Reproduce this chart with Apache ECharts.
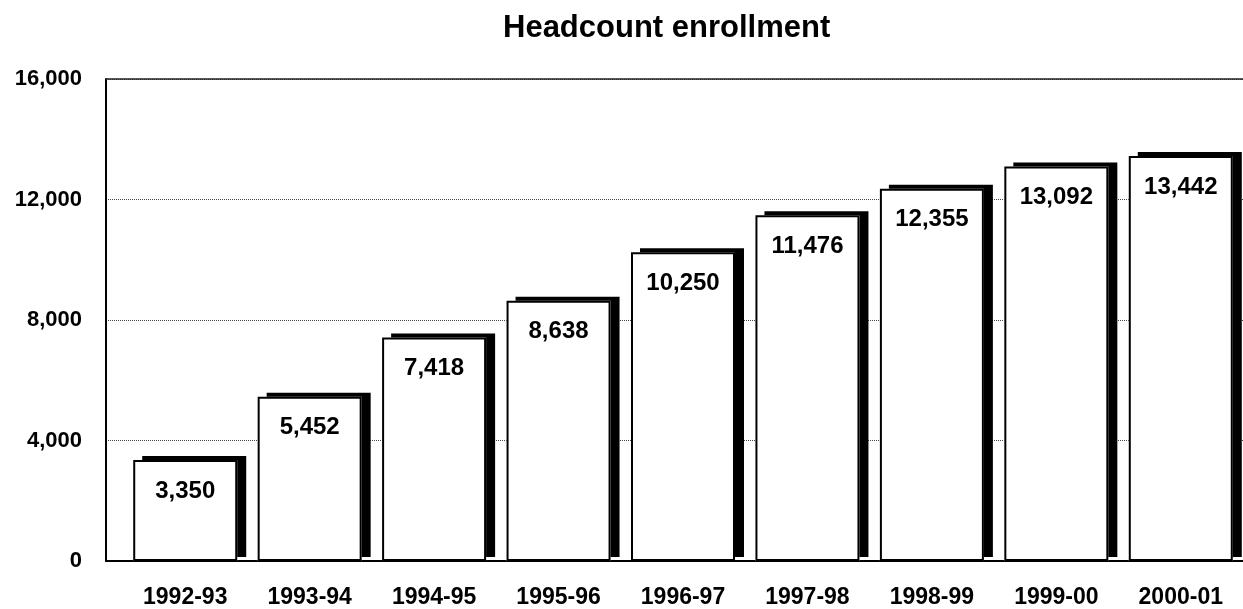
<!DOCTYPE html>
<html>
<head>
<meta charset="utf-8">
<script src="https://cdn.jsdelivr.net/npm/echarts@6/dist/echarts.min.js"></script>
<style>
html,body{margin:0;padding:0;background:#fff;}
#chart{width:1243px;height:609px;}
</style>
</head>
<body>
<div id="chart"></div>
<script>
const titleText = 'Headcount enrollment';
const categories = ['1992-93','1993-94','1994-95','1995-96','1996-97','1997-98','1998-99','1999-00','2000-01'];
const enrollment = [3350, 5452, 7418, 8638, 10250, 11476, 12355, 13092, 13442];
const yMin = 0, yMax = 16000, yInterval = 4000;

const FONT = "'Liberation Sans', Arial, sans-serif";
const chart = echarts.init(document.getElementById('chart'), null, {renderer:'canvas'});
const fmt = v => Number(v).toLocaleString('en-US');

chart.setOption({
  animation: false,
  backgroundColor: '#fff',
  title: {
    text: titleText,
    left: 498, top: 8,
    textStyle: {fontFamily: FONT, fontSize: 31, fontWeight: 'bold', color: '#000'}
  },
  grid: [
    {left: 106, right: 0, top: 79, bottom: 48},
    {left: 123, width: 1126, top: 79, bottom: 48}
  ],
  xAxis: [
    {type:'category', gridIndex:0, data: categories, position:'bottom',
     axisLine:{show:true, lineStyle:{color:'#000', width:2}}, axisTick:{show:false}, axisLabel:{show:false}, splitLine:{show:false}},
    {type:'category', gridIndex:0, data: categories, position:'top',
     axisLine:{show:true, lineStyle:{color:'#222', width:1.5}}, axisTick:{show:false}, axisLabel:{show:false}, splitLine:{show:false}},
    {type:'category', gridIndex:1, data: categories, position:'bottom',
     axisLine:{show:false}, axisTick:{show:false},
     axisLabel:{show:true, margin:25, fontFamily: FONT, fontSize: 23, fontWeight:'bold', color:'#000', interval:0}}
  ],
  yAxis: [
    {type:'value', gridIndex:0, min:yMin, max:yMax, interval:yInterval,
     axisLine:{show:true, lineStyle:{color:'#000', width:2}}, axisTick:{show:false},
     axisLabel:{margin:24, fontFamily: FONT, fontSize: 22, fontWeight:'bold', color:'#000', formatter: fmt},
     splitLine:{show:true, lineStyle:{type:'dotted', color:'#444', width:1}}},
    {type:'value', gridIndex:1, min:yMin, max:yMax, interval:yInterval, show:false, splitLine:{show:false}}
  ],
  series: [
    {
      type: 'bar', name: 'shadow',
      xAxisIndex: 2, yAxisIndex: 1,
      data: enrollment,
      barWidth: 104,
      silent: true,
      itemStyle: {
        color: '#fff', borderWidth: 0,
        shadowColor: '#000', shadowBlur: 0, shadowOffsetX: 9, shadowOffsetY: -4
      }
    },
    {
      type: 'bar', name: 'enrollment',
      xAxisIndex: 2, yAxisIndex: 1,
      data: enrollment,
      barWidth: 104,
      barGap: '-100%',
      itemStyle: { color: '#fff', borderColor: '#000', borderWidth: 2 },
      label: {
        show: true, position: 'insideTop', distance: 19,
        fontFamily: FONT, fontSize: 24, fontWeight: 'bold', color: '#000',
        formatter: p => fmt(p.value)
      }
    }
  ]
});
</script>
</body>
</html>
